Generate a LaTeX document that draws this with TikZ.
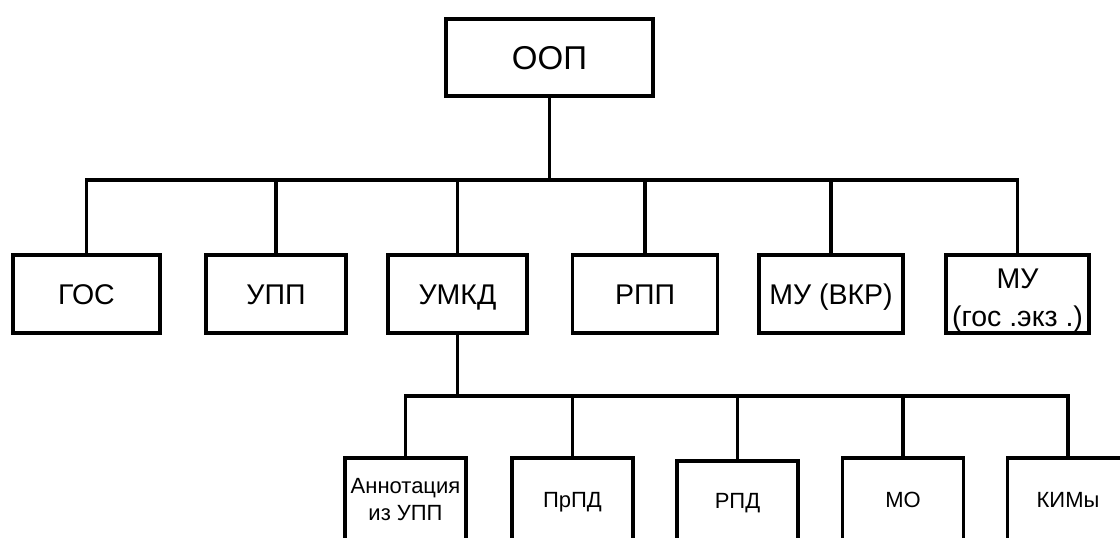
\documentclass[tikz,border=0pt]{standalone}
\usepackage{fontspec}
\setmainfont{Liberation Sans}
\begin{document}
\begin{tikzpicture}[x=1pt,y=-1pt,
  box/.style={draw=black,line width=3.8pt,fill=white,inner sep=0pt,align=center},
  topbox/.style={box,minimum width=207pt,minimum height=77pt,
    font=\fontsize{33}{38}\selectfont,text height=23.6pt,text depth=0pt},
  midbox/.style={box,minimum height=78pt,font=\fontsize{28.5}{40}\selectfont,
    text height=20.4pt,text depth=0pt},
  lowbox/.style={box,minimum width=121pt,minimum height=84pt,font=\fontsize{22}{27}\selectfont},
  lowcaps/.style={lowbox,text height=15.8pt,text depth=0pt},
  link/.style={line width=3.4pt,line join=miter}]
\useasboundingbox (0,0) rectangle (1120,538);

% top element
\node[topbox] (oop) at (549.5,57.5) {ООП};

% first level
\node[midbox,minimum width=147pt] (gos)  at (86.5,294)   {ГОС};
\node[midbox,minimum width=140pt] (upp)  at (276,294)    {УПП};
\node[midbox,minimum width=139pt] (umkd) at (457.5,294)  {УМКД};
\node[midbox,minimum width=145pt] (rpp)  at (645,294)    {РПП};
\node[midbox,minimum width=144pt] (muv)  at (831,294)    {МУ (ВКР)};
\node[midbox,minimum width=143pt,text height=0pt] (mug)  at (1017.5,294)
  {\raisebox{6pt}[0pt][0pt]{\fontsize{28.5}{38}\selectfont
     \begin{tabular}[t]{@{}c@{}}МУ\\(гос .экз .)\end{tabular}}};

% second level (under УМКД)
\node[lowbox] (ann)  at (405.5,500) {Аннотация\\из УПП};
\node[lowcaps] (prpd) at (572.5,500) {ПрПД};
\node[lowcaps,minimum height=80pt] (rpd) at (737.5,501) {РПД};
\node[lowcaps] (mo)   at (903,500)   {МО};
\node[lowcaps] (kim)  at (1068,500)  {КИМы};

% bus lines
\coordinate (busA) at (0,180);
\coordinate (busB) at (0,396);

\draw[link] (gos.north) -- (gos.north |- busA) -- (mug.north |- busA) -- (mug.north);
\foreach \n in {upp,umkd,rpp,muv}
  \draw[link] (\n.north) -- (\n.north |- busA);
\draw[link] (oop.south) -- (oop.south |- busA);

\draw[link] (ann.north) -- (ann.north |- busB) -- (kim.north |- busB) -- (kim.north);
\foreach \n in {prpd,rpd,mo}
  \draw[link] (\n.north) -- (\n.north |- busB);
\draw[link] (umkd.south) -- (umkd.south |- busB);
\end{tikzpicture}
\end{document}
